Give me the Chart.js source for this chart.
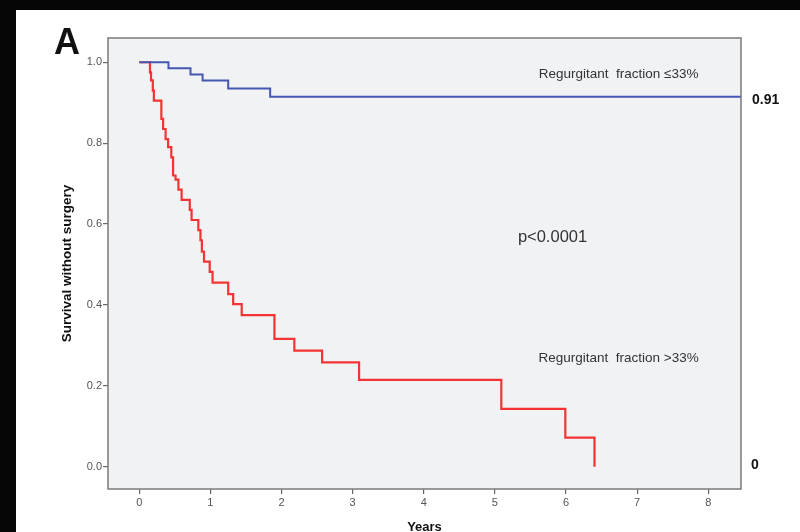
<!DOCTYPE html>
<html>
<head>
<meta charset="utf-8">
<script src="https://cdn.jsdelivr.net/npm/chart.js@4.4.1/dist/chart.umd.min.js"></script>
<style>
  html, body { margin: 0; padding: 0; background: #060606; width: 800px; height: 532px; overflow: hidden; }
  #wrap { position: absolute; left: 16px; top: 10px; width: 784px; height: 522px; background: #ffffff; }
  canvas { display: block; }
</style>
</head>
<body>
<div id="wrap"><canvas id="c" width="784" height="522"></canvas></div>
<script>
// ---- data ----
const lowTimes = [0, 0.41, 0.72, 0.89, 1.25, 1.84, 8.5];
const lowSurv  = [1.0, 0.985, 0.97, 0.955, 0.935, 0.915, 0.915];

const highTimes = [0, 0.15, 0.165, 0.19, 0.205, 0.31, 0.335, 0.37, 0.405, 0.45, 0.475, 0.51, 0.55, 0.595, 0.71, 0.735, 0.83, 0.86, 0.88, 0.91, 0.99, 1.03, 1.25, 1.32, 1.44, 1.90, 2.18, 2.57, 3.09, 5.09, 5.99, 6.40];
const highSurv  = [1.0, 0.975, 0.955, 0.93, 0.905, 0.86, 0.835, 0.81, 0.79, 0.765, 0.72, 0.71, 0.685, 0.66, 0.635, 0.61, 0.585, 0.56, 0.532, 0.507, 0.482, 0.455, 0.427, 0.402, 0.375, 0.316, 0.287, 0.258, 0.215, 0.143, 0.072, 0.0];

const xTicks = [0, 1, 2, 3, 4, 5, 6, 7, 8];
const xTickLabels = ['0', '1', '2', '3', '4', '5', '6', '7', '8'];
const yTicks = [0, 0.2, 0.4, 0.6, 0.8, 1.0];
const yTickLabels = ['0.0', '0.2', '0.4', '0.6', '0.8', '1.0'];

const lowLabel = 'Regurgitant  fraction \u226433%';
const highLabel = 'Regurgitant  fraction >33%';
const pText = 'p<0.0001';
const lowEnd = '0.91';
const highEnd = '0';

const toPts = (t, s) => t.map((v, i) => ({ x: v, y: s[i] }));

const framePlugin = {
  id: 'frame',
  beforeDatasetsDraw(chart) {
    const { ctx, chartArea: a } = chart;
    ctx.save();
    ctx.fillStyle = '#f1f2f4';
    ctx.fillRect(a.left, a.top, a.right - a.left, a.bottom - a.top);
    ctx.restore();
  },
  afterDraw(chart) {
    const { ctx, chartArea: a, scales } = chart;
    ctx.save();
    ctx.strokeStyle = '#7a7a7a';
    ctx.lineWidth = 1.5;
    ctx.strokeRect(a.left, a.top, a.right - a.left, a.bottom - a.top);

    const xs = scales.x, ys = scales.y;
    ctx.fillStyle = '#111';
    ctx.font = 'bold 36px "Liberation Sans", Arial, sans-serif';
    ctx.textAlign = 'left';
    ctx.textBaseline = 'alphabetic';
    ctx.fillText('A', 38, 44);

    ctx.fillStyle = '#333';
    ctx.font = '13.5px "Liberation Sans", Arial, sans-serif';
    ctx.textAlign = 'center';
    ctx.textBaseline = 'middle';
    ctx.fillText(lowLabel, xs.getPixelForValue(6.74), ys.getPixelForValue(0.97));
    ctx.fillText(highLabel, xs.getPixelForValue(6.74), ys.getPixelForValue(0.267));
    ctx.font = '16.5px "Liberation Sans", Arial, sans-serif';
    ctx.fillText(pText, xs.getPixelForValue(5.81), ys.getPixelForValue(0.567));

    ctx.fillStyle = '#111';
    ctx.font = 'bold 14px "Liberation Sans", Arial, sans-serif';
    ctx.textAlign = 'left';
    ctx.fillText(lowEnd, a.right + 11, ys.getPixelForValue(0.915) + 3);
    ctx.fillText(highEnd, a.right + 10, ys.getPixelForValue(0.0) - 2);
    ctx.restore();
  }
};

new Chart(document.getElementById('c'), {
  type: 'line',
  data: {
    datasets: [
      {
        label: lowLabel,
        data: toPts(lowTimes, lowSurv),
        borderColor: '#4557b0',
        borderWidth: 2,
        stepped: true,
        pointRadius: 0,
        fill: false
      },
      {
        label: highLabel,
        data: toPts(highTimes, highSurv),
        borderColor: '#f43434',
        borderWidth: 2.2,
        stepped: true,
        pointRadius: 0,
        fill: false
      }
    ]
  },
  options: {
    responsive: false,
    animation: false,
    layout: { padding: { left: 0, top: 28, right: 59, bottom: 0 } },
    plugins: { legend: { display: false }, tooltip: { enabled: false } },
    scales: {
      x: {
        type: 'linear',
        min: -0.44,
        max: 8.46,
        afterFit(axis) { axis.height = 43; },
        afterBuildTicks(axis) { axis.ticks = xTicks.map(v => ({ value: v })); },
        grid: { drawOnChartArea: false, drawTicks: true, tickLength: 5, color: '#666', lineWidth: 1.2 },
        border: { display: false },
        ticks: {
          color: '#555',
          font: { size: 11, family: '"Liberation Sans", Arial, sans-serif' },
          padding: 2,
          maxRotation: 0,
          callback: (v) => { const i = xTicks.indexOf(v); return i >= 0 ? xTickLabels[i] : ''; }
        },
        title: {
          display: true,
          text: 'Years',
          color: '#111',
          font: { size: 13, weight: 'bold', family: '"Liberation Sans", Arial, sans-serif', lineHeight: 0.77 },
          padding: 0
        }
      },
      y: {
        type: 'linear',
        min: -0.055,
        max: 1.06,
        afterFit(axis) { axis.width = 92; },
        afterBuildTicks(axis) { axis.ticks = yTicks.map(v => ({ value: v })); },
        grid: { drawOnChartArea: false, drawTicks: true, tickLength: 5, color: '#666', lineWidth: 1.2 },
        border: { display: false },
        ticks: {
          color: '#555',
          font: { size: 11, family: '"Liberation Sans", Arial, sans-serif' },
          padding: 1,
          callback: (v) => { const i = yTicks.findIndex(t => Math.abs(t - v) < 1e-9); return i >= 0 ? yTickLabels[i] : ''; }
        },
        title: {
          display: true,
          text: 'Survival without surgery',
          color: '#111',
          font: { size: 13.5, weight: 'bold', family: '"Liberation Sans", Arial, sans-serif', lineHeight: 1.2 },
          padding: { top: 43, bottom: 0 }
        }
      }
    }
  },
  plugins: [framePlugin]
});
</script>
</body>
</html>
